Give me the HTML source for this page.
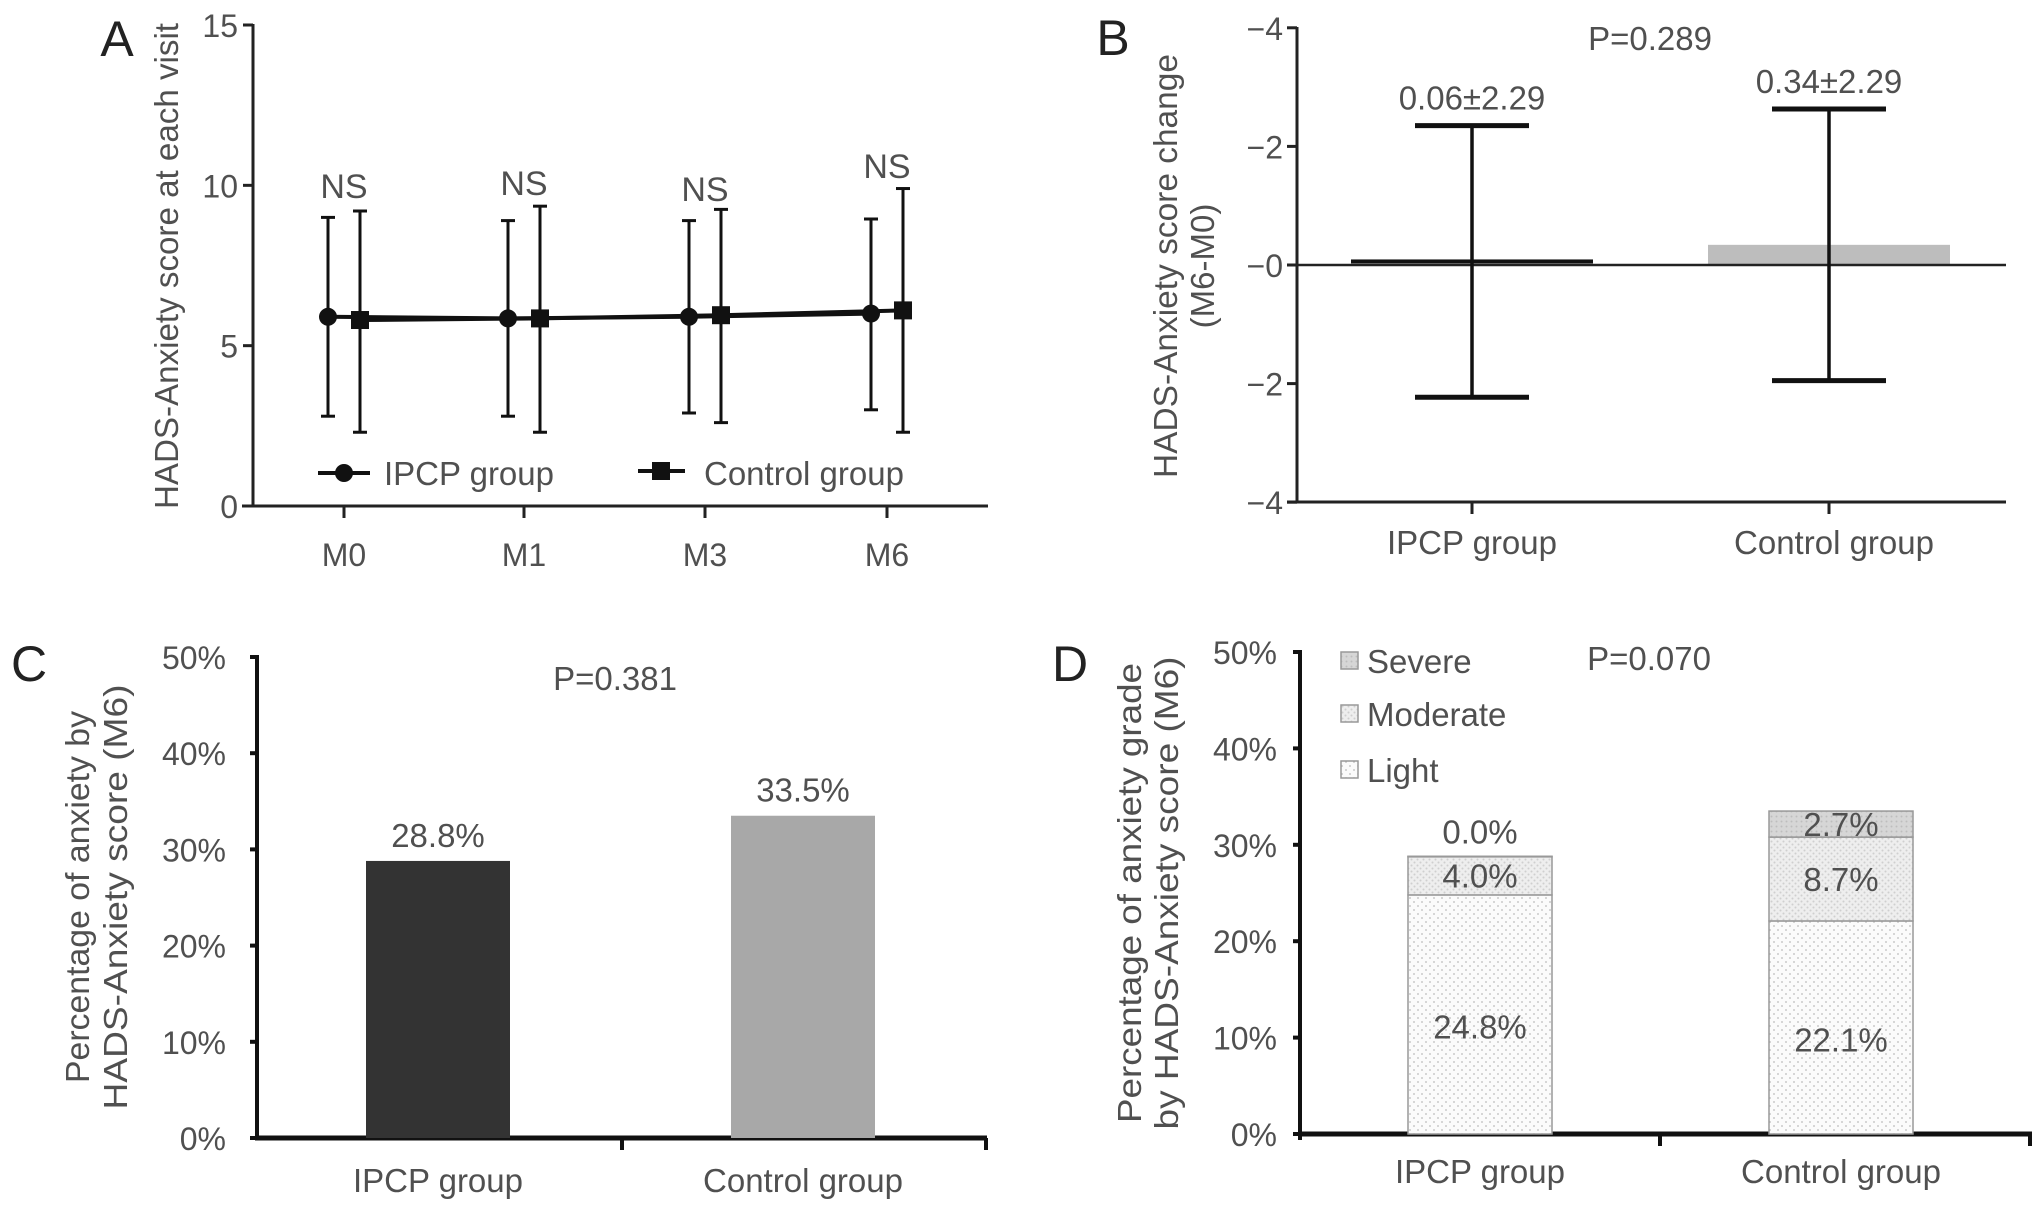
<!DOCTYPE html>
<html><head><meta charset="utf-8"><style>
html,body{margin:0;padding:0;background:#fff;}
svg{display:block;font-family:"Liberation Sans",sans-serif;}
</style></head><body>
<svg id="fig" width="2032" height="1211" viewBox="0 0 2032 1211" xmlns="http://www.w3.org/2000/svg">
<defs>
<pattern id="dotsL" width="8" height="8" patternUnits="userSpaceOnUse"><rect width="8" height="8" fill="#fbfbfb"/><circle cx="2" cy="2" r="0.9" fill="#bbb"/><circle cx="6" cy="6" r="0.9" fill="#bbb"/></pattern>
<pattern id="dotsM" width="6" height="6" patternUnits="userSpaceOnUse"><rect width="6" height="6" fill="#eeeeee"/><circle cx="1.5" cy="1.5" r="1" fill="#cfcfcf"/><circle cx="4.5" cy="4.5" r="1" fill="#cfcfcf"/></pattern>
<pattern id="dotsS" width="5" height="5" patternUnits="userSpaceOnUse"><rect width="5" height="5" fill="#d6d6d6"/><circle cx="1.5" cy="1.5" r="1" fill="#bdbdbd"/></pattern>
</defs>
<g id="root"></g>
</svg>
<script>
// Panel A data
const visits = ['M0','M1','M3','M6'];
const ipcpMean = [5.9, 5.85, 5.9, 6.0];
const ipcpLo = [2.8, 2.8, 2.9, 3.0];
const ipcpHi = [9.0, 8.9, 8.9, 8.95];
const ctrlMean = [5.8, 5.85, 5.95, 6.1];
const ctrlLo = [2.3, 2.3, 2.6, 2.3];
const ctrlHi = [9.2, 9.35, 9.25, 9.9];
const aTicks = [0, 5, 10, 15];
// Panel B data
const groups = ['IPCP group', 'Control group'];
const changeMean = [0.06, 0.34];
const changeSD = [2.29, 2.29];
const bTickVals = [4, 2, 0, -2, -4];
const bTickLabels = ['\u22124', '\u22122', '\u22120', '\u22122', '\u22124'];
// Panel C data
const anxietyPct = [28.8, 33.5];
const pctTicks = [0, 10, 20, 30, 40, 50];
// Panel D data
const lightPct = [24.8, 22.1];
const moderatePct = [4.0, 8.7];
const severePct = [0.0, 2.7];

const NS = 'http://www.w3.org/2000/svg';
const root = document.getElementById('root');
function mk(tag, attrs, parent, text) {
  const e = document.createElementNS(NS, tag);
  for (const k in attrs) e.setAttribute(k, attrs[k]);
  if (text !== undefined) e.textContent = text;
  (parent || root).appendChild(e);
  return e;
}
const TXT = '#505050';
const FT = 32; // tick font
const FL = 33; // label font
let e;

// ================= Panel A =================
const gA = mk('g', {});


const aX = i => [344, 524, 705, 887][i];
const aY = v => 506 - v * (506 - 25) / 15;
e = mk('text', {x: 117, y: 56, 'font-size': 50, fill: '#222', 'text-anchor': 'middle'}, gA, 'A');


e = mk('text', {x: 0, y: 0, 'font-size': FL, fill: TXT, 'text-anchor': 'middle', textLength: 486, lengthAdjust: 'spacingAndGlyphs', transform: 'translate(178,266) rotate(-90)'}, gA, 'HADS-Anxiety score at each visit');


e = mk('line', {x1: 253, y1: 24, x2: 253, y2: 506, stroke: '#222', 'stroke-width': 3}, gA);


e = mk('line', {x1: 242, y1: 506, x2: 988, y2: 506, stroke: '#222', 'stroke-width': 3}, gA);


aTicks.forEach(t => {
  mk('line', {x1: 243, y1: aY(t), x2: 253, y2: aY(t), stroke: '#222', 'stroke-width': 3}, gA);
  e = mk('text', {x: 238, y: aY(t) + 12, 'font-size': FT, fill: TXT, 'text-anchor': 'end'}, gA, String(t));
  
  
});
visits.forEach((v, i) => {
  mk('line', {x1: aX(i), y1: 506, x2: aX(i), y2: 518, stroke: '#222', 'stroke-width': 3}, gA);
  e = mk('text', {x: aX(i), y: 566, 'font-size': FT, fill: TXT, 'text-anchor': 'middle'}, gA, v);
  
  
});
const OFF = 16;
function errbar(x, lo, hi, g, name) {
  const eg = mk('g', {stroke: '#111', 'stroke-width': 3}, g);
  
  
  mk('line', {x1: x, y1: aY(lo), x2: x, y2: aY(hi)}, eg);
  mk('line', {x1: x - 7, y1: aY(lo), x2: x + 7, y2: aY(lo)}, eg);
  mk('line', {x1: x - 7, y1: aY(hi), x2: x + 7, y2: aY(hi)}, eg);
}
visits.forEach((v, i) => {
  errbar(aX(i) - OFF, ipcpLo[i], ipcpHi[i], gA, 'ipcp-error-bar');
  errbar(aX(i) + OFF, ctrlLo[i], ctrlHi[i], gA, 'control-error-bar');
});
let pts = visits.map((v, i) => (aX(i) - OFF) + ',' + aY(ipcpMean[i])).join(' ');
e = mk('polyline', {points: pts, fill: 'none', stroke: '#111', 'stroke-width': 4}, gA);


pts = visits.map((v, i) => (aX(i) + OFF) + ',' + aY(ctrlMean[i])).join(' ');
e = mk('polyline', {points: pts, fill: 'none', stroke: '#111', 'stroke-width': 4}, gA);


visits.forEach((v, i) => {
  e = mk('circle', {cx: aX(i) - OFF, cy: aY(ipcpMean[i]), r: 9, fill: '#111'}, gA);
  
  
  e = mk('rect', {x: aX(i) + OFF - 9, y: aY(ctrlMean[i]) - 9, width: 18, height: 18, fill: '#111'}, gA);
  
  
});
const nsY = [186, 183, 189, 166];
visits.forEach((v, i) => {
  e = mk('text', {x: aX(i), y: nsY[i] + 12, 'font-size': 34, fill: TXT, 'text-anchor': 'middle'}, gA, 'NS');
  
  
});
// legend A
const lgA = mk('g', {}, gA);


mk('line', {x1: 318, y1: 473, x2: 370, y2: 473, stroke: '#111', 'stroke-width': 4}, lgA);
mk('circle', {cx: 344, cy: 473, r: 9, fill: '#111'}, lgA);
e = mk('text', {x: 384, y: 485, 'font-size': FL, fill: TXT}, lgA, 'IPCP group');


mk('line', {x1: 638, y1: 471, x2: 685, y2: 471, stroke: '#111', 'stroke-width': 4}, lgA);
mk('rect', {x: 652, y: 462, width: 18, height: 18, fill: '#111'}, lgA);
e = mk('text', {x: 704, y: 485, 'font-size': FL, fill: TXT}, lgA, 'Control group');



// ================= Panel B =================
const gB = mk('g', {});


const bYv = v => 265 - v * 59.3;
const bX = i => [1472, 1829][i];
e = mk('text', {x: 1113, y: 55, 'font-size': 50, fill: '#222', 'text-anchor': 'middle'}, gB, 'B');


e = mk('text', {x: 0, y: 0, 'font-size': FL, fill: TXT, 'text-anchor': 'middle', textLength: 424, lengthAdjust: 'spacingAndGlyphs', transform: 'translate(1177,266) rotate(-90)'}, gB, 'HADS-Anxiety score change');


e = mk('text', {x: 0, y: 0, 'font-size': FL, fill: TXT, 'text-anchor': 'middle', transform: 'translate(1214,266) rotate(-90)'}, gB, '(M6-M0)');


e = mk('line', {x1: 1297, y1: 27, x2: 1297, y2: 502, stroke: '#222', 'stroke-width': 3}, gB);


e = mk('line', {x1: 1287, y1: 502, x2: 2006, y2: 502, stroke: '#222', 'stroke-width': 3}, gB);


bTickVals.forEach((t, i) => {
  const yy = 265 + t * 59.3;
  mk('line', {x1: 1287, y1: yy, x2: 1297, y2: yy, stroke: '#222', 'stroke-width': 3}, gB);
  e = mk('text', {x: 1283, y: yy + 12, 'font-size': FT, fill: TXT, 'text-anchor': 'end'}, gB, bTickLabels[i]);
  
  
});
const barColorsB = ['#111', '#bdbdbd'];
groups.forEach((g, i) => {
  const y0 = 265, y1 = bYv(changeMean[i]);
  e = mk('rect', {x: bX(i) - 121, y: Math.min(y0, y1) - (i === 0 ? 2 : 0), width: 242, height: Math.max(Math.abs(y1 - y0), 4), fill: barColorsB[i]}, gB);
  
  
});
e = mk('line', {x1: 1297, y1: 265, x2: 2006, y2: 265, stroke: '#222', 'stroke-width': 2.5}, gB);


groups.forEach((g, i) => {
  const hi = bYv(changeMean[i] + changeSD[i]), lo = bYv(changeMean[i] - changeSD[i]);
  const eg = mk('g', {stroke: '#111'}, gB);
  
  
  mk('line', {x1: bX(i), y1: hi, x2: bX(i), y2: lo, 'stroke-width': 3.5}, eg);
  mk('line', {x1: bX(i) - 57, y1: hi, x2: bX(i) + 57, y2: hi, 'stroke-width': 5}, eg);
  mk('line', {x1: bX(i) - 57, y1: lo, x2: bX(i) + 57, y2: lo, 'stroke-width': 5}, eg);
  e = mk('text', {x: bX(i), y: hi - 16, 'font-size': FL, fill: TXT, 'text-anchor': 'middle'}, gB, changeMean[i].toFixed(2) + '\u00b1' + changeSD[i].toFixed(2));
  
  
  mk('line', {x1: bX(i), y1: 502, x2: bX(i), y2: 514, stroke: '#222', 'stroke-width': 3}, gB);
  e = mk('text', {x: bX(i) + (i ? 5 : 0), y: 554, 'font-size': FL, fill: TXT, 'text-anchor': 'middle'}, gB, g);
  
  
});
e = mk('text', {x: 1650, y: 50, 'font-size': FL, fill: TXT, 'text-anchor': 'middle'}, gB, 'P=0.289');



// ================= Panel C =================
const gC = mk('g', {});


const cY = v => 1138 - v * (1138 - 657) / 50;
const cX = i => [438, 803][i];
e = mk('text', {x: 29, y: 681, 'font-size': 50, fill: '#222', 'text-anchor': 'middle'}, gC, 'C');


e = mk('text', {x: 0, y: 0, 'font-size': FL, fill: TXT, 'text-anchor': 'middle', textLength: 372, lengthAdjust: 'spacingAndGlyphs', transform: 'translate(89,897) rotate(-90)'}, gC, 'Percentage of anxiety by');


e = mk('text', {x: 0, y: 0, 'font-size': FL, fill: TXT, 'text-anchor': 'middle', textLength: 425, lengthAdjust: 'spacingAndGlyphs', transform: 'translate(127,897) rotate(-90)'}, gC, 'HADS-Anxiety score (M6)');


e = mk('line', {x1: 257, y1: 655, x2: 257, y2: 1140, stroke: '#111', 'stroke-width': 4}, gC);


e = mk('line', {x1: 255, y1: 1138, x2: 987, y2: 1138, stroke: '#111', 'stroke-width': 5}, gC);


pctTicks.forEach(t => {
  mk('line', {x1: 250, y1: cY(t), x2: 257, y2: cY(t), stroke: '#111', 'stroke-width': 4}, gC);
  e = mk('text', {x: 226, y: cY(t) + 12, 'font-size': FT, fill: TXT, 'text-anchor': 'end'}, gC, t + '%');
  
  
});
mk('line', {x1: 622, y1: 1138, x2: 622, y2: 1150, stroke: '#111', 'stroke-width': 4}, gC);
mk('line', {x1: 986, y1: 1138, x2: 986, y2: 1150, stroke: '#111', 'stroke-width': 4}, gC);
const barColorsC = ['#333333', '#a8a8a8'];
groups.forEach((g, i) => {
  e = mk('rect', {x: cX(i) - 72, y: cY(anxietyPct[i]), width: 144, height: 1138 - cY(anxietyPct[i]), fill: barColorsC[i]}, gC);
  
  
  e = mk('text', {x: cX(i), y: cY(anxietyPct[i]) - 14, 'font-size': FL, fill: TXT, 'text-anchor': 'middle'}, gC, anxietyPct[i].toFixed(1) + '%');
  
  
  e = mk('text', {x: cX(i), y: 1192, 'font-size': FL, fill: TXT, 'text-anchor': 'middle'}, gC, g);
  
  
});
e = mk('text', {x: 615, y: 690, 'font-size': FL, fill: TXT, 'text-anchor': 'middle'}, gC, 'P=0.381');



// ================= Panel D =================
const gD = mk('g', {});


const dY = v => 1134 - v * (1134 - 652) / 50;
const dX = i => [1480, 1841][i];
e = mk('text', {x: 1070, y: 681, 'font-size': 50, fill: '#222', 'text-anchor': 'middle'}, gD, 'D');


e = mk('text', {x: 0, y: 0, 'font-size': FL, fill: TXT, 'text-anchor': 'middle', textLength: 460, lengthAdjust: 'spacingAndGlyphs', transform: 'translate(1141,893) rotate(-90)'}, gD, 'Percentage of anxiety grade');


e = mk('text', {x: 0, y: 0, 'font-size': FL, fill: TXT, 'text-anchor': 'middle', textLength: 473, lengthAdjust: 'spacingAndGlyphs', transform: 'translate(1178,893) rotate(-90)'}, gD, 'by HADS-Anxiety score (M6)');


e = mk('line', {x1: 1300, y1: 650, x2: 1300, y2: 1140, stroke: '#111', 'stroke-width': 4}, gD);


e = mk('line', {x1: 1298, y1: 1134, x2: 2032, y2: 1134, stroke: '#111', 'stroke-width': 5}, gD);


pctTicks.forEach(t => {
  mk('line', {x1: 1293, y1: dY(t), x2: 1300, y2: dY(t), stroke: '#111', 'stroke-width': 4}, gD);
  e = mk('text', {x: 1277, y: dY(t) + 12, 'font-size': FT, fill: TXT, 'text-anchor': 'end'}, gD, t + '%');
  
  
});
mk('line', {x1: 1660, y1: 1134, x2: 1660, y2: 1146, stroke: '#111', 'stroke-width': 4}, gD);
mk('line', {x1: 2030, y1: 1134, x2: 2030, y2: 1146, stroke: '#111', 'stroke-width': 4}, gD);
groups.forEach((g, i) => {
  const x = dX(i) - 72, w = 144;
  const l = lightPct[i], m = moderatePct[i], s = severePct[i];
  e = mk('rect', {x: x, y: dY(l), width: w, height: dY(0) - dY(l), fill: 'url(#dotsL)', stroke: '#999', 'stroke-width': 1.5}, gD);
  
  
  e = mk('rect', {x: x, y: dY(l + m), width: w, height: dY(l) - dY(l + m), fill: 'url(#dotsM)', stroke: '#999', 'stroke-width': 1.5}, gD);
  
  
  e = mk('rect', {x: x, y: dY(l + m + s), width: w, height: Math.max(dY(l + m) - dY(l + m + s), 0.5), fill: 'url(#dotsS)', stroke: '#999', 'stroke-width': 1.5}, gD);
  
  
  e = mk('text', {x: dX(i), y: (dY(0) + dY(l)) / 2 + 24, 'font-size': FL, fill: TXT, 'text-anchor': 'middle'}, gD, l.toFixed(1) + '%');
  
  
  e = mk('text', {x: dX(i), y: (dY(l) + dY(l + m)) / 2 + 12, 'font-size': FL, fill: TXT, 'text-anchor': 'middle'}, gD, m.toFixed(1) + '%');
  
  
  const sy = s > 1 ? (dY(l + m) + dY(l + m + s)) / 2 + 12 : dY(l + m + s) - 13;
  e = mk('text', {x: dX(i), y: sy, 'font-size': FL, fill: TXT, 'text-anchor': 'middle'}, gD, s.toFixed(1) + '%');
  
  
  e = mk('text', {x: dX(i), y: 1183, 'font-size': FL, fill: TXT, 'text-anchor': 'middle'}, gD, g);
  
  
});
const lgD = mk('g', {}, gD);


[['Severe', 'url(#dotsS)', 661], ['Moderate', 'url(#dotsM)', 714], ['Light', 'url(#dotsL)', 770]].forEach(r => {
  mk('rect', {x: 1341, y: r[2] - 9, width: 17, height: 17, fill: r[1], stroke: '#999', 'stroke-width': 1.5}, lgD);
  e = mk('text', {x: 1367, y: r[2] + 12, 'font-size': FL, fill: TXT}, lgD, r[0]);
  
  
});
e = mk('text', {x: 1649, y: 670, 'font-size': FL, fill: TXT, 'text-anchor': 'middle'}, gD, 'P=0.070');


</script>
</body></html>
